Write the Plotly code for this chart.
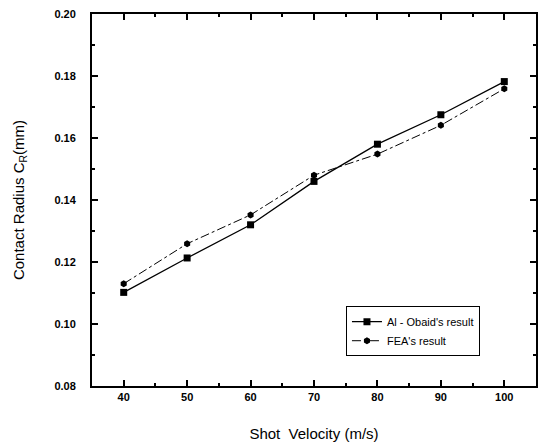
import plotly.graph_objects as go

velocity = [40, 50, 60, 70, 80, 90, 100]
al_obaid = [0.1102, 0.1213, 0.1320, 0.1460, 0.1580, 0.1675, 0.1782]
fea = [0.1130, 0.1259, 0.1352, 0.1480, 0.1548, 0.1641, 0.1759]

fig = go.Figure()
fig.add_trace(go.Scatter(
    x=velocity, y=al_obaid, mode="lines+markers", name="Al - Obaid's result",
    line=dict(color="black", width=1.3),
    marker=dict(symbol="square", size=7, color="black")))
fig.add_trace(go.Scatter(
    x=velocity, y=fea, mode="lines+markers", name="FEA's result",
    line=dict(color="black", width=1, dash="dashdot"),
    marker=dict(symbol="hexagon", size=7, color="black")))

axis_common = dict(
    showgrid=False, zeroline=False, showline=True, linecolor="black", linewidth=2,
    mirror="ticks", ticks="inside", ticklen=6, tickwidth=1.5, tickcolor="black",
    tickfont=dict(family="Arial, Liberation Sans", size=11, color="black", weight="bold"),
)

fig.update_xaxes(
    range=[35, 105], tickvals=[40, 50, 60, 70, 80, 90, 100],
    minor=dict(ticks="inside", dtick=5, tick0=35, ticklen=3, tickcolor="black"),
    title=dict(text="Shot  Velocity (m/s)", font=dict(family="Arial, Liberation Sans", size=15, color="black"), standoff=26),
    **axis_common)
fig.update_yaxes(
    range=[0.08, 0.20], tickvals=[0.08, 0.10, 0.12, 0.14, 0.16, 0.18, 0.20],
    tickformat=".2f",
    minor=dict(ticks="inside", dtick=0.01, tick0=0.08, ticklen=3, tickcolor="black"),
    ticklabelstandoff=12,
    title=dict(text="Contact Radius C<sub>R</sub>(mm)", font=dict(family="Arial, Liberation Sans", size=15, color="black"), standoff=26),
    **axis_common)

fig.update_layout(
    width=544, height=446,
    margin=dict(l=92, r=6, t=14, b=59),
    plot_bgcolor="white", paper_bgcolor="white",
    legend=dict(x=0.572, y=0.2145, xanchor="left", yanchor="top",
                bordercolor="black", borderwidth=1, bgcolor="white",
                font=dict(family="Arial, Liberation Sans", size=11, color="black"),
                tracegroupgap=0, itemwidth=30),
)

fig.write_html("out.html")
